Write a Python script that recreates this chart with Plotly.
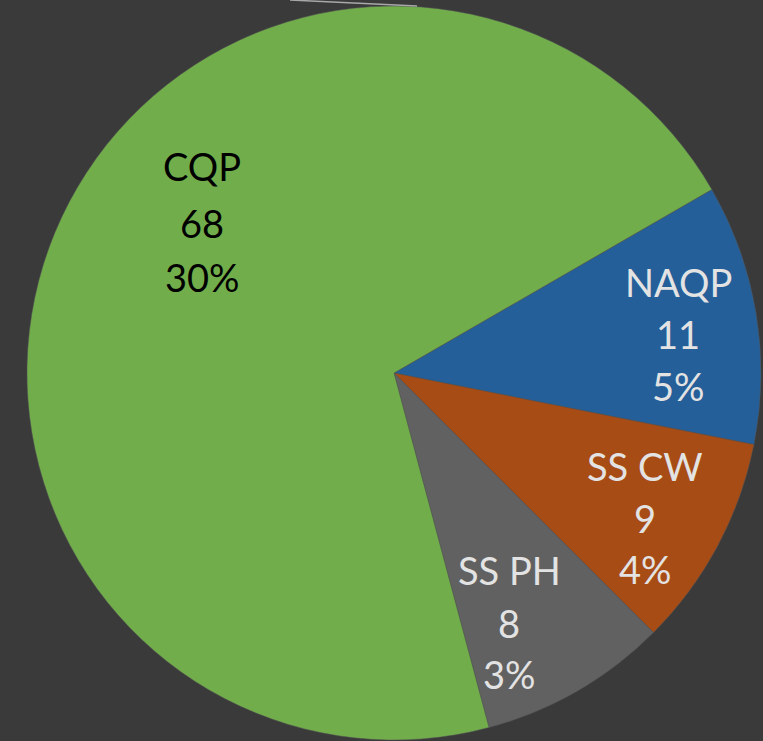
import plotly.graph_objects as go

# ---- data ----
labels = ["NAQP", "SS CW", "SS PH", "CQP"]
values = [11, 9, 8, 68]
pct_text = ["5%", "4%", "3%", "30%"]

colors = ["#245f99", "#a84c16", "#616161", "#71ae4b"]
text_colors = ["#e3e3e3", "#e3e3e3", "#e3e3e3", "#000000"]

W, H = 763, 741
# label line centres in pixels (x, [y_line1, y_line2, y_line3])
label_pos = {
    "NAQP": (678, [284, 336, 388]),
    "SS CW": (645, [468, 520, 571]),
    "SS PH": (509, [572, 625, 676]),
    "CQP": (202, [168, 225, 279]),
}

fig = go.Figure()
fig.add_trace(go.Pie(
    labels=labels,
    values=values,
    sort=False,
    direction="clockwise",
    rotation=60,
    marker=dict(colors=colors, line=dict(color="#555555", width=0.5)),
    textinfo="none",
    hoverinfo="label+value",
    showlegend=False,
    domain=dict(x=[27 / W, 761 / W], y=[1 / H, 735 / H]),
))

annotations = []
for lab, val, pct, tc in zip(labels, values, pct_text, text_colors):
    px, ys = label_pos[lab]
    for line, py in zip([lab, str(val), pct], ys):
        annotations.append(dict(
            x=px / W, y=1 - (py - 2) / H, xref="paper", yref="paper",
            text=line, showarrow=False, xanchor="center", yanchor="middle",
            font=dict(family="Lato, 'Open Sans', sans-serif", size=38, color=tc),
        ))

fig.update_layout(
    width=W, height=H,
    margin=dict(l=0, r=0, t=0, b=0),
    paper_bgcolor="#3a3a3a",
    plot_bgcolor="#3a3a3a",
    annotations=annotations,
    shapes=[dict(type="line", xref="paper", yref="paper",
                 x0=290 / W, y0=1.0, x1=417 / W, y1=1 - 6 / H,
                 line=dict(color="#a8a8a8", width=1.5))],
)

fig.write_html(
    "out.html",
    config={"displayModeBar": False},
    post_script="document.body.style.margin='0px';document.body.style.overflow='hidden';",
)
